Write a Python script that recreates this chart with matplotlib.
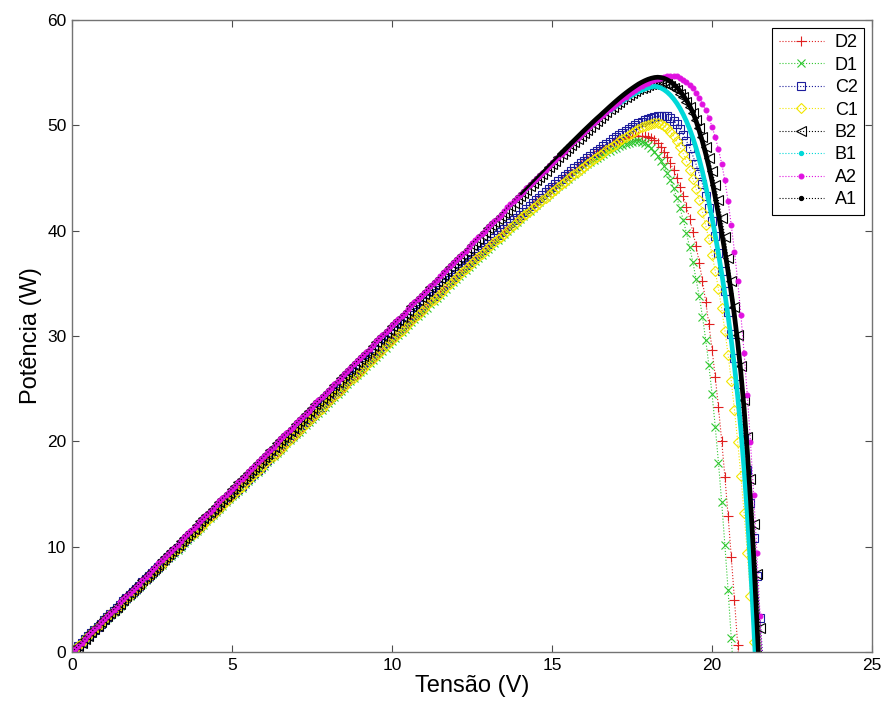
import matplotlib

matplotlib.use("Agg")
import matplotlib.pyplot as plt
from matplotlib.lines import Line2D

plt.rcParams["font.family"] = ["Liberation Sans", "DejaVu Sans"]

# voltage sweep (V), 0.1 V steps
voltage = [
    0.0, 0.1, 0.2, 0.3, 0.4, 0.5, 0.6, 0.7, 0.8, 0.9,
    1.0, 1.1, 1.2, 1.3, 1.4, 1.5, 1.6, 1.7, 1.8, 1.9,
    2.0, 2.1, 2.2, 2.3, 2.4, 2.5, 2.6, 2.7, 2.8, 2.9,
    3.0, 3.1, 3.2, 3.3, 3.4, 3.5, 3.6, 3.7, 3.8, 3.9,
    4.0, 4.1, 4.2, 4.3, 4.4, 4.5, 4.6, 4.7, 4.8, 4.9,
    5.0, 5.1, 5.2, 5.3, 5.4, 5.5, 5.6, 5.7, 5.8, 5.9,
    6.0, 6.1, 6.2, 6.3, 6.4, 6.5, 6.6, 6.7, 6.8, 6.9,
    7.0, 7.1, 7.2, 7.3, 7.4, 7.5, 7.6, 7.7, 7.8, 7.9,
    8.0, 8.1, 8.2, 8.3, 8.4, 8.5, 8.6, 8.7, 8.8, 8.9,
    9.0, 9.1, 9.2, 9.3, 9.4, 9.5, 9.6, 9.7, 9.8, 9.9,
    10.0, 10.1, 10.2, 10.3, 10.4, 10.5, 10.6, 10.7, 10.8, 10.9,
    11.0, 11.1, 11.2, 11.3, 11.4, 11.5, 11.6, 11.7, 11.8, 11.9,
    12.0, 12.1, 12.2, 12.3, 12.4, 12.5, 12.6, 12.7, 12.8, 12.9,
    13.0, 13.1, 13.2, 13.3, 13.4, 13.5, 13.6, 13.7, 13.8, 13.9,
    14.0, 14.1, 14.2, 14.3, 14.4, 14.5, 14.6, 14.7, 14.8, 14.9,
    15.0, 15.1, 15.2, 15.3, 15.4, 15.5, 15.6, 15.7, 15.8, 15.9,
    16.0, 16.1, 16.2, 16.3, 16.4, 16.5, 16.6, 16.7, 16.8, 16.9,
    17.0, 17.1, 17.2, 17.3, 17.4, 17.5, 17.6, 17.7, 17.8, 17.9,
    18.0, 18.1, 18.2, 18.3, 18.4, 18.5, 18.6, 18.7, 18.8, 18.9,
    19.0, 19.1, 19.2, 19.3, 19.4, 19.5, 19.6, 19.7, 19.8, 19.9,
    20.0, 20.1, 20.2, 20.3, 20.4, 20.5, 20.6, 20.7, 20.8, 20.9,
    21.0, 21.1, 21.2, 21.3, 21.4, 21.5, 21.6,
]

# power (W) per module (last sample lies just past Voc)
d2_power = [
    0.0, 0.3, 0.6, 0.9, 1.2, 1.5, 1.8, 2.1, 2.4, 2.7,
    3.0, 3.3, 3.6, 3.9, 4.2, 4.5, 4.8, 5.0, 5.3, 5.6,
    5.9, 6.2, 6.5, 6.8, 7.1, 7.4, 7.7, 8.0, 8.3, 8.6,
    8.9, 9.2, 9.5, 9.8, 10.1, 10.4, 10.7, 11.0, 11.3, 11.6,
    11.9, 12.2, 12.5, 12.8, 13.1, 13.4, 13.7, 14.0, 14.3, 14.6,
    14.9, 15.1, 15.4, 15.7, 16.0, 16.3, 16.6, 16.9, 17.2, 17.5,
    17.8, 18.1, 18.4, 18.7, 19.0, 19.3, 19.6, 19.9, 20.2, 20.5,
    20.8, 21.1, 21.4, 21.7, 22.0, 22.3, 22.6, 22.9, 23.2, 23.5,
    23.8, 24.1, 24.4, 24.7, 24.9, 25.2, 25.5, 25.8, 26.1, 26.4,
    26.7, 27.0, 27.3, 27.6, 27.9, 28.2, 28.5, 28.8, 29.1, 29.4,
    29.7, 30.0, 30.3, 30.6, 30.9, 31.2, 31.5, 31.8, 32.1, 32.4,
    32.7, 33.0, 33.3, 33.6, 33.9, 34.2, 34.5, 34.7, 35.0, 35.3,
    35.64, 35.93, 36.22, 36.51, 36.8, 37.1, 37.39, 37.68, 37.97, 38.26,
    38.55, 38.83, 39.11, 39.39, 39.67, 39.95, 40.23, 40.51, 40.79, 41.07,
    41.35, 41.62, 41.88, 42.15, 42.41, 42.68, 42.94, 43.21, 43.47, 43.74,
    44.0, 44.26, 44.51, 44.76, 45.01, 45.26, 45.51, 45.76, 46.01, 46.26,
    46.5, 46.73, 46.96, 47.18, 47.39, 47.6, 47.79, 47.97, 48.14, 48.3,
    48.45, 48.58, 48.7, 48.8, 48.88, 48.94, 48.98, 49.0, 49.0, 48.97,
    48.9, 48.76, 48.56, 48.28, 47.92, 47.48, 46.97, 46.38, 45.72, 44.98,
    44.16, 43.25, 42.25, 41.14, 39.9, 38.52, 36.96, 35.21, 33.26, 31.1,
    28.71, 26.09, 23.21, 20.06, 16.63, 12.93, 9.03, 4.93, 0.68, -3.6,
]
d1_power = [
    0.0, 0.3, 0.6, 0.9, 1.2, 1.5, 1.8, 2.1, 2.4, 2.7,
    3.0, 3.2, 3.5, 3.8, 4.1, 4.4, 4.7, 5.0, 5.3, 5.6,
    5.9, 6.2, 6.5, 6.8, 7.1, 7.4, 7.7, 8.0, 8.3, 8.6,
    8.9, 9.1, 9.4, 9.7, 10.0, 10.3, 10.6, 10.9, 11.2, 11.5,
    11.8, 12.1, 12.4, 12.7, 13.0, 13.3, 13.6, 13.9, 14.2, 14.5,
    14.8, 15.0, 15.3, 15.6, 15.9, 16.2, 16.5, 16.8, 17.1, 17.4,
    17.7, 18.0, 18.3, 18.6, 18.9, 19.2, 19.5, 19.8, 20.1, 20.4,
    20.7, 20.9, 21.2, 21.5, 21.8, 22.1, 22.4, 22.7, 23.0, 23.3,
    23.6, 23.9, 24.2, 24.5, 24.8, 25.1, 25.4, 25.7, 26.0, 26.3,
    26.6, 26.8, 27.1, 27.4, 27.7, 28.0, 28.3, 28.6, 28.9, 29.2,
    29.5, 29.8, 30.1, 30.4, 30.7, 31.0, 31.3, 31.6, 31.9, 32.2,
    32.5, 32.7, 33.0, 33.3, 33.6, 33.9, 34.2, 34.5, 34.8, 35.1,
    35.4, 35.69, 35.98, 36.27, 36.56, 36.85, 37.14, 37.43, 37.72, 38.01,
    38.3, 38.58, 38.86, 39.14, 39.42, 39.7, 39.98, 40.26, 40.54, 40.82,
    41.1, 41.37, 41.63, 41.9, 42.16, 42.43, 42.69, 42.96, 43.22, 43.49,
    43.75, 43.99, 44.23, 44.47, 44.71, 44.94, 45.17, 45.41, 45.64, 45.87,
    46.1, 46.31, 46.51, 46.71, 46.91, 47.1, 47.27, 47.43, 47.58, 47.72,
    47.85, 47.99, 48.12, 48.25, 48.36, 48.45, 48.5, 48.5, 48.43, 48.3,
    48.1, 47.82, 47.5, 47.11, 46.65, 46.11, 45.5, 44.8, 44.0, 43.1,
    42.1, 41.0, 39.75, 38.4, 37.0, 35.4, 33.75, 31.8, 29.65, 27.2,
    24.45, 21.35, 17.95, 14.2, 10.15, 5.85, 1.35, -3.3,
]
c2_power = [
    0.0, 0.3, 0.6, 0.9, 1.2, 1.5, 1.8, 2.1, 2.4, 2.7,
    3.0, 3.3, 3.6, 3.9, 4.2, 4.5, 4.8, 5.1, 5.4, 5.7,
    6.0, 6.3, 6.6, 6.9, 7.2, 7.5, 7.8, 8.1, 8.4, 8.7,
    9.0, 9.3, 9.6, 9.9, 10.2, 10.5, 10.8, 11.1, 11.4, 11.7,
    12.0, 12.3, 12.6, 12.9, 13.2, 13.5, 13.8, 14.1, 14.4, 14.7,
    15.0, 15.2, 15.5, 15.8, 16.1, 16.4, 16.7, 17.0, 17.3, 17.6,
    17.9, 18.2, 18.5, 18.8, 19.1, 19.4, 19.7, 20.0, 20.3, 20.6,
    20.9, 21.2, 21.5, 21.8, 22.1, 22.4, 22.7, 23.0, 23.3, 23.6,
    23.9, 24.2, 24.5, 24.8, 25.1, 25.4, 25.7, 26.0, 26.3, 26.6,
    26.9, 27.2, 27.5, 27.8, 28.1, 28.4, 28.7, 29.0, 29.3, 29.6,
    29.9, 30.2, 30.5, 30.8, 31.1, 31.4, 31.7, 32.0, 32.3, 32.6,
    32.9, 33.2, 33.5, 33.8, 34.1, 34.4, 34.7, 35.0, 35.3, 35.6,
    35.88, 36.17, 36.46, 36.75, 37.04, 37.33, 37.61, 37.9, 38.18, 38.46,
    38.74, 39.02, 39.3, 39.58, 39.86, 40.13, 40.41, 40.69, 40.96, 41.24,
    41.51, 41.78, 42.05, 42.32, 42.59, 42.86, 43.12, 43.39, 43.65, 43.92,
    44.18, 44.43, 44.68, 44.93, 45.18, 45.42, 45.67, 45.91, 46.16, 46.4,
    46.64, 46.87, 47.1, 47.33, 47.56, 47.78, 48.0, 48.22, 48.44, 48.66,
    48.88, 49.08, 49.28, 49.47, 49.66, 49.85, 50.02, 50.18, 50.33, 50.46,
    50.58, 50.69, 50.78, 50.84, 50.88, 50.9, 50.85, 50.7, 50.45, 50.1,
    49.65, 49.12, 48.52, 47.85, 47.1, 46.28, 45.38, 44.4, 43.33, 42.17,
    40.92, 39.47, 37.89, 36.17, 34.31, 32.31, 30.17, 27.89, 25.47, 22.91,
    20.19, 17.29, 14.19, 10.84, 7.19, 3.19, -1.2,
]
c1_power = [
    0.0, 0.3, 0.6, 0.9, 1.2, 1.5, 1.8, 2.1, 2.4, 2.7,
    3.0, 3.3, 3.6, 3.8, 4.1, 4.4, 4.7, 5.0, 5.3, 5.6,
    5.9, 6.2, 6.5, 6.8, 7.1, 7.4, 7.7, 8.0, 8.3, 8.6,
    8.9, 9.2, 9.5, 9.8, 10.1, 10.4, 10.7, 11.0, 11.2, 11.5,
    11.8, 12.1, 12.4, 12.7, 13.0, 13.3, 13.6, 13.9, 14.2, 14.5,
    14.8, 15.1, 15.4, 15.7, 16.0, 16.3, 16.6, 16.9, 17.2, 17.5,
    17.8, 18.1, 18.4, 18.6, 18.9, 19.2, 19.5, 19.8, 20.1, 20.4,
    20.7, 21.0, 21.3, 21.6, 21.9, 22.2, 22.5, 22.8, 23.1, 23.4,
    23.7, 24.0, 24.3, 24.6, 24.9, 25.2, 25.5, 25.8, 26.0, 26.3,
    26.6, 26.9, 27.2, 27.5, 27.8, 28.1, 28.4, 28.7, 29.0, 29.3,
    29.6, 29.9, 30.2, 30.5, 30.8, 31.1, 31.4, 31.7, 32.0, 32.3,
    32.6, 32.9, 33.2, 33.4, 33.7, 34.0, 34.3, 34.6, 34.9, 35.2,
    35.52, 35.81, 36.09, 36.37, 36.66, 36.94, 37.22, 37.5, 37.79, 38.07,
    38.35, 38.62, 38.9, 39.17, 39.44, 39.72, 39.99, 40.27, 40.54, 40.82,
    41.09, 41.35, 41.6, 41.86, 42.12, 42.37, 42.63, 42.88, 43.14, 43.39,
    43.65, 43.9, 44.15, 44.4, 44.65, 44.9, 45.14, 45.37, 45.61, 45.84,
    46.08, 46.3, 46.53, 46.75, 46.98, 47.2, 47.41, 47.62, 47.83, 48.04,
    48.25, 48.46, 48.67, 48.88, 49.09, 49.3, 49.5, 49.68, 49.84, 49.97,
    50.07, 50.14, 50.18, 50.17, 50.1, 49.95, 49.7, 49.37, 48.96, 48.47,
    47.91, 47.27, 46.56, 45.77, 44.91, 43.96, 42.91, 41.76, 40.51, 39.16,
    37.71, 36.14, 34.44, 32.61, 30.51, 28.21, 25.71, 22.96, 19.96, 16.71,
    13.21, 9.41, 5.31, 0.91, -3.6,
]
b2_power = [
    0.0, 0.3, 0.6, 0.9, 1.2, 1.5, 1.9, 2.2, 2.5, 2.8,
    3.1, 3.4, 3.7, 4.0, 4.3, 4.6, 4.9, 5.3, 5.6, 5.9,
    6.2, 6.5, 6.8, 7.1, 7.4, 7.7, 8.0, 8.3, 8.7, 9.0,
    9.3, 9.6, 9.9, 10.2, 10.5, 10.8, 11.1, 11.4, 11.7, 12.1,
    12.4, 12.7, 13.0, 13.3, 13.6, 13.9, 14.2, 14.5, 14.8, 15.1,
    15.5, 15.8, 16.1, 16.4, 16.7, 17.0, 17.3, 17.6, 17.9, 18.2,
    18.5, 18.8, 19.2, 19.5, 19.8, 20.1, 20.4, 20.7, 21.0, 21.3,
    21.6, 21.9, 22.2, 22.6, 22.9, 23.2, 23.5, 23.8, 24.1, 24.4,
    24.7, 25.0, 25.3, 25.6, 26.0, 26.3, 26.6, 26.9, 27.2, 27.5,
    27.8, 28.1, 28.4, 28.7, 29.0, 29.4, 29.7, 30.0, 30.3, 30.6,
    30.9, 31.2, 31.5, 31.8, 32.1, 32.4, 32.8, 33.1, 33.4, 33.7,
    34.0, 34.3, 34.6, 34.9, 35.2, 35.5, 35.8, 36.2, 36.5, 36.8,
    37.1, 37.4, 37.7, 38.0, 38.3, 38.6, 38.9, 39.2, 39.6, 39.9,
    40.2, 40.5, 40.8, 41.1, 41.4, 41.7, 42.0, 42.3, 42.6, 43.0,
    43.3, 43.6, 43.9, 44.2, 44.5, 44.8, 45.1, 45.4, 45.7, 46.0,
    46.35, 46.65, 46.95, 47.24, 47.54, 47.83, 48.13, 48.42, 48.72, 49.01,
    49.3, 49.58, 49.86, 50.14, 50.42, 50.7, 50.97, 51.24, 51.5, 51.75,
    52.0, 52.23, 52.46, 52.67, 52.88, 53.07, 53.25, 53.41, 53.55, 53.67,
    53.78, 53.87, 53.94, 53.98, 54.0, 53.97, 53.89, 53.76, 53.57, 53.32,
    53.01, 52.64, 52.21, 51.71, 51.14, 50.49, 49.75, 48.91, 47.96, 46.89,
    45.69, 44.35, 42.86, 41.21, 39.39, 37.39, 35.19, 32.77, 30.11, 27.18,
    23.95, 20.39, 16.46, 12.13, 7.38, 2.23, -3.0,
]
b1_power = [
    0.0, 0.3, 0.6, 0.9, 1.2, 1.5, 1.8, 2.2, 2.5, 2.8,
    3.1, 3.4, 3.7, 4.0, 4.3, 4.6, 4.9, 5.2, 5.5, 5.9,
    6.2, 6.5, 6.8, 7.1, 7.4, 7.7, 8.0, 8.3, 8.6, 8.9,
    9.2, 9.5, 9.9, 10.2, 10.5, 10.8, 11.1, 11.4, 11.7, 12.0,
    12.3, 12.6, 12.9, 13.2, 13.6, 13.9, 14.2, 14.5, 14.8, 15.1,
    15.4, 15.7, 16.0, 16.3, 16.6, 16.9, 17.2, 17.6, 17.9, 18.2,
    18.5, 18.8, 19.1, 19.4, 19.7, 20.0, 20.3, 20.6, 20.9, 21.3,
    21.6, 21.9, 22.2, 22.5, 22.8, 23.1, 23.4, 23.7, 24.0, 24.3,
    24.6, 24.9, 25.3, 25.6, 25.9, 26.2, 26.5, 26.8, 27.1, 27.4,
    27.7, 28.0, 28.3, 28.6, 29.0, 29.3, 29.6, 29.9, 30.2, 30.5,
    30.8, 31.1, 31.4, 31.7, 32.0, 32.3, 32.6, 33.0, 33.3, 33.6,
    33.9, 34.2, 34.5, 34.8, 35.1, 35.4, 35.7, 36.0, 36.3, 36.7,
    37.0, 37.3, 37.6, 37.9, 38.2, 38.5, 38.8, 39.1, 39.4, 39.7,
    40.0, 40.3, 40.7, 41.0, 41.3, 41.6, 41.9, 42.2, 42.5, 42.8,
    43.1, 43.4, 43.7, 44.0, 44.4, 44.7, 45.0, 45.3, 45.6, 45.9,
    46.2, 46.51, 46.82, 47.13, 47.43, 47.73, 48.03, 48.33, 48.62, 48.92,
    49.21, 49.49, 49.76, 50.03, 50.3, 50.56, 50.82, 51.07, 51.32, 51.56,
    51.8, 52.03, 52.25, 52.46, 52.66, 52.85, 53.02, 53.18, 53.32, 53.44,
    53.54, 53.63, 53.7, 53.65, 53.54, 53.37, 53.14, 52.85, 52.5, 52.08,
    51.59, 51.02, 50.37, 49.63, 48.79, 47.84, 46.77, 45.57, 44.23, 42.75,
    41.19, 39.54, 37.79, 35.94, 33.99, 31.89, 29.59, 27.09, 24.29, 21.09,
    17.39, 13.09, 8.19, 2.59, -3.4,
]
a2_power = [
    0.0, 0.3, 0.6, 0.9, 1.2, 1.6, 1.9, 2.2, 2.5, 2.8,
    3.1, 3.4, 3.7, 4.0, 4.3, 4.7, 5.0, 5.3, 5.6, 5.9,
    6.2, 6.5, 6.8, 7.1, 7.4, 7.8, 8.1, 8.4, 8.7, 9.0,
    9.3, 9.6, 9.9, 10.2, 10.5, 10.9, 11.2, 11.5, 11.8, 12.1,
    12.4, 12.7, 13.0, 13.3, 13.6, 14.0, 14.3, 14.6, 14.9, 15.2,
    15.5, 15.8, 16.1, 16.4, 16.7, 17.1, 17.4, 17.7, 18.0, 18.3,
    18.6, 18.9, 19.2, 19.5, 19.8, 20.2, 20.5, 20.8, 21.1, 21.4,
    21.7, 22.0, 22.3, 22.6, 22.9, 23.3, 23.6, 23.9, 24.2, 24.5,
    24.8, 25.1, 25.4, 25.7, 26.0, 26.4, 26.7, 27.0, 27.3, 27.6,
    27.9, 28.2, 28.5, 28.8, 29.1, 29.5, 29.8, 30.1, 30.4, 30.7,
    31.0, 31.3, 31.6, 31.9, 32.2, 32.6, 32.9, 33.2, 33.5, 33.8,
    34.1, 34.4, 34.7, 35.0, 35.3, 35.7, 36.0, 36.3, 36.6, 36.9,
    37.2, 37.5, 37.8, 38.1, 38.4, 38.8, 39.1, 39.4, 39.7, 40.0,
    40.3, 40.6, 40.9, 41.2, 41.5, 41.9, 42.2, 42.5, 42.8, 43.1,
    43.4, 43.7, 44.0, 44.3, 44.6, 44.9, 45.2, 45.5, 45.8, 46.1,
    46.4, 46.7, 47.0, 47.3, 47.6, 47.9, 48.2, 48.49, 48.78, 49.07,
    49.35, 49.63, 49.91, 50.19, 50.47, 50.75, 51.01, 51.27, 51.52, 51.76,
    52.0, 52.24, 52.47, 52.7, 52.92, 53.13, 53.33, 53.52, 53.7, 53.87,
    54.03, 54.17, 54.3, 54.42, 54.52, 54.61, 54.68, 54.72, 54.71, 54.64,
    54.52, 54.34, 54.11, 53.83, 53.49, 53.08, 52.61, 52.06, 51.43, 50.71,
    49.86, 48.86, 47.71, 46.36, 44.76, 42.81, 40.51, 38.01, 35.21, 32.01,
    28.41, 24.41, 19.91, 14.91, 9.41, 3.41, -2.8,
]
a1_power = [
    0.0, 0.3, 0.6, 0.9, 1.2, 1.6, 1.9, 2.2, 2.5, 2.8,
    3.1, 3.4, 3.7, 4.0, 4.3, 4.7, 5.0, 5.3, 5.6, 5.9,
    6.2, 6.5, 6.8, 7.1, 7.4, 7.8, 8.1, 8.4, 8.7, 9.0,
    9.3, 9.6, 9.9, 10.2, 10.5, 10.9, 11.2, 11.5, 11.8, 12.1,
    12.4, 12.7, 13.0, 13.3, 13.6, 14.0, 14.3, 14.6, 14.9, 15.2,
    15.5, 15.8, 16.1, 16.4, 16.7, 17.1, 17.4, 17.7, 18.0, 18.3,
    18.6, 18.9, 19.2, 19.5, 19.8, 20.2, 20.5, 20.8, 21.1, 21.4,
    21.7, 22.0, 22.3, 22.6, 22.9, 23.3, 23.6, 23.9, 24.2, 24.5,
    24.8, 25.1, 25.4, 25.7, 26.0, 26.4, 26.7, 27.0, 27.3, 27.6,
    27.9, 28.2, 28.5, 28.8, 29.1, 29.5, 29.8, 30.1, 30.4, 30.7,
    31.0, 31.3, 31.6, 31.9, 32.2, 32.6, 32.9, 33.2, 33.5, 33.8,
    34.1, 34.4, 34.7, 35.0, 35.3, 35.7, 36.0, 36.3, 36.6, 36.9,
    37.2, 37.5, 37.8, 38.1, 38.4, 38.8, 39.1, 39.4, 39.7, 40.0,
    40.3, 40.6, 40.9, 41.2, 41.5, 41.9, 42.2, 42.5, 42.8, 43.1,
    43.4, 43.71, 44.02, 44.33, 44.64, 44.95, 45.26, 45.57, 45.88, 46.19,
    46.5, 46.8, 47.1, 47.4, 47.7, 48.0, 48.3, 48.6, 48.9, 49.2,
    49.5, 49.79, 50.08, 50.37, 50.65, 50.92, 51.2, 51.48, 51.76, 52.03,
    52.3, 52.56, 52.81, 53.05, 53.28, 53.5, 53.71, 53.91, 54.08, 54.23,
    54.36, 54.46, 54.53, 54.56, 54.53, 54.45, 54.32, 54.14, 53.9, 53.6,
    53.24, 52.83, 52.37, 51.83, 51.2, 50.4, 49.45, 48.43, 47.3, 46.06,
    44.7, 43.15, 41.5, 39.78, 38.0, 36.12, 34.1, 31.9, 29.4, 26.5,
    23.1, 19.1, 14.4, 9.0, 2.9, -3.4,
]

labels = ["D2", "D1", "C2", "C1", "B2", "B1", "A2", "A1"]
powers = [d2_power, d1_power, c2_power, c1_power, b2_power, b1_power, a2_power, a1_power]

# MATLAB-like styles, in plotting order
styles = {
    "D2": dict(color="#e02020", marker="+", ms=7, mfc="none"),
    "D1": dict(color="#30c830", marker="x", ms=6, mfc="none"),
    "C2": dict(color="#1c1c9c", marker="s", ms=6, mfc="none"),
    "C1": dict(color="#f2e600", marker="D", ms=5.5, mfc="none"),
    "B2": dict(color="#000000", marker="<", ms=6.5, mfc="none"),
    "B1": dict(color="#00d8d8", marker=".", ms=6, mfc="#00d8d8"),
    "A2": dict(color="#e010e0", marker=".", ms=7, mfc="#e010e0"),
    "A1": dict(color="#000000", marker=".", ms=6, mfc="#000000"),
}
# A1 / B1 are densely sampled past the knee and look like a solid band there
dense_from = {"A1": (14.0, 15.2), "B1": (16.0, 16.8)}

fig = plt.figure(figsize=(8.87, 7.11), dpi=100)
ax = fig.add_axes([0.0812, 0.083, 0.902, 0.889])

for label, power in zip(labels, powers):
    v = voltage[: len(power)]
    st = styles[label]
    if label in dense_from:
        ax.plot(v, power, ":", color=st["color"], lw=0.8)
        mid, full = (v.index(x) for x in dense_from[label])
        ax.plot(v[mid:full + 1], power[mid:full + 1], "-", color=st["color"],
                lw=1.8, solid_capstyle="butt")
        ax.plot(v[full:], power[full:], "-", color=st["color"], lw=3.4,
                solid_capstyle="butt")
    else:
        ax.plot(v, power, ":", color=st["color"], lw=0.8, marker=st["marker"],
                ms=st["ms"], mfc=st["mfc"], mec=st["color"], mew=0.8)

handles = [
    Line2D([], [], linestyle=":", color=styles[lb]["color"], lw=0.8,
           marker=styles[lb]["marker"], ms=styles[lb]["ms"],
           mfc=styles[lb]["mfc"], mec=styles[lb]["color"], mew=0.8)
    for lb in labels
]
leg = ax.legend(handles, labels, loc="upper right", fontsize=13, numpoints=1,
                handlelength=2.5, handletextpad=0.6, labelspacing=0.3,
                borderpad=0.35, borderaxespad=0.45, fancybox=False,
                framealpha=1, edgecolor="black")
leg.get_frame().set_linewidth(0.8)

ax.set_xlim(0, 25)
ax.set_ylim(0, 60)
ax.set_xticks([0, 5, 10, 15, 20, 25])
ax.set_yticks([0, 10, 20, 30, 40, 50, 60])
ax.tick_params(direction="in", length=5, width=0.8, top=True, right=True,
               labelsize=12.5, color="0.3", pad=4)
for spine in ax.spines.values():
    spine.set_color("0.45")
    spine.set_linewidth(1.0)

ax.set_xlabel("Tensão (V)", fontsize=17, labelpad=2)
ax.set_ylabel("Potência (W)", fontsize=17, labelpad=4)

fig.savefig("out.png", dpi=100)
